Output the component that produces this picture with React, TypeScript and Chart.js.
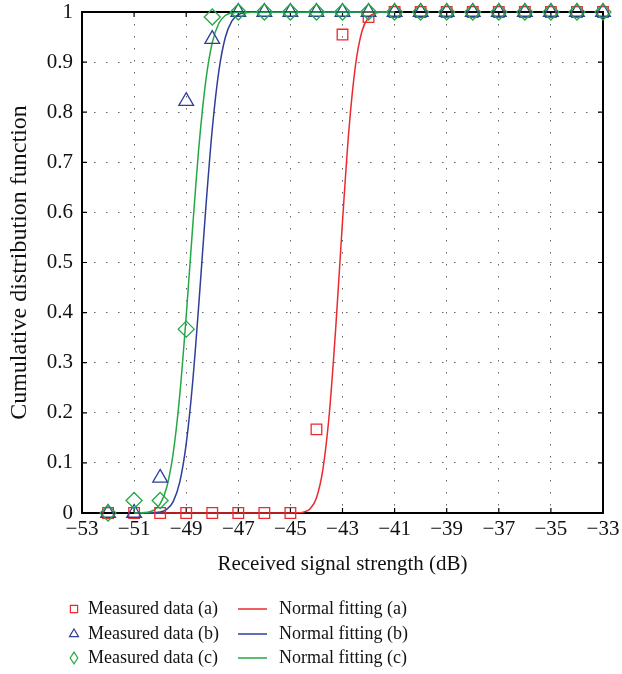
import React, { useEffect, useRef } from "react";
import { Chart, registerables } from "chart.js";

Chart.register(...registerables);

// ---- data ----
const measuredX = [-52, -51, -50, -49, -48, -47, -46, -45, -44, -43, -42, -41, -40, -39, -38, -37, -36, -35, -34, -33];
const measuredA = [0, 0, 0, 0, 0, 0, 0, 0, 0.167, 0.955, 0.99, 1, 1, 1, 1, 1, 1, 1, 1, 1];
const measuredB = [0, 0, 0.07, 0.822, 0.946, 1, 1, 1, 1, 1, 1, 1, 1, 1, 1, 1, 1, 1, 1, 1];
const measuredC = [0, 0.025, 0.025, 0.367, 0.99, 1, 1, 1, 1, 1, 1, 1, 1, 1, 1, 1, 1, 1, 1, 1];

const fitAX = [-51, -45.5, -45, -44.75, -44.5, -44.25, -44, -43.75, -43.5, -43.25, -43, -42.75, -42.5, -42.25, -42, -41.75, -41.5, -41];
const fitAY = [0, 0, 0.0001, 0.0003, 0.0018, 0.0082, 0.03, 0.088, 0.202, 0.377, 0.582, 0.767, 0.894, 0.962, 0.989, 0.9975, 0.9996, 1];

const fitBX = [-51, -50.5, -50, -49.75, -49.5, -49.25, -49, -48.75, -48.5, -48.25, -48, -47.75, -47.5, -47.25, -47, -46.75, -46.5, -41];
const fitBY = [0, 0.0001, 0.0018, 0.0071, 0.0228, 0.061, 0.138, 0.262, 0.428, 0.607, 0.766, 0.881, 0.949, 0.982, 0.9945, 0.9987, 0.9997, 1];

const fitCX = [-51, -50.75, -50.5, -50.25, -50, -49.75, -49.5, -49.25, -49, -48.75, -48.5, -48.25, -48, -47.75, -47.5, -47.25, -47, -41];
const fitCY = [0.0001, 0.0003, 0.0013, 0.0055, 0.018, 0.051, 0.119, 0.234, 0.393, 0.572, 0.738, 0.862, 0.939, 0.977, 0.993, 0.998, 0.9996, 1];

const xTickMin = -53;
const xTickMax = -33;
const xTickStep = 2;
const yTickStep = 0.1;

const seriesLabels = [
  "Measured data (a)",
  "Measured data (b)",
  "Measured data (c)",
  "Normal fitting (a)",
  "Normal fitting (b)",
  "Normal fitting (c)",
];

const RED = "#ec2a2e";
const BLUE = "#2f3f98";
const GREEN = "#24a845";

const FONT = '"Liberation Serif", "DejaVu Serif", serif';

const zip = (xs: number[], ys: number[]) => xs.map((x, i) => ({ x, y: ys[i] }));

// frame + inward ticks
const framePlugin = {
  id: "frame",
  beforeDatasetsDraw(chart: any) {
    const { ctx, chartArea: a, scales } = chart;
    ctx.save();
    ctx.strokeStyle = "#000";
    ctx.lineWidth = 1.2;
    const tl = 5;
    scales.x.ticks.forEach((t: any) => {
      const px = scales.x.getPixelForValue(t.value);
      ctx.beginPath();
      ctx.moveTo(px, a.bottom);
      ctx.lineTo(px, a.bottom - tl);
      ctx.moveTo(px, a.top);
      ctx.lineTo(px, a.top + tl);
      ctx.stroke();
    });
    scales.y.ticks.forEach((t: any) => {
      const py = scales.y.getPixelForValue(t.value);
      ctx.beginPath();
      ctx.moveTo(a.left, py);
      ctx.lineTo(a.left + tl, py);
      ctx.moveTo(a.right, py);
      ctx.lineTo(a.right - tl, py);
      ctx.stroke();
    });
    ctx.lineWidth = 2;
    ctx.strokeRect(a.left, a.top, a.right - a.left, a.bottom - a.top);
    ctx.restore();
  },
};

function drawMarker(ctx: CanvasRenderingContext2D, style: string, x: number, y: number, r: number) {
  ctx.beginPath();
  if (style === "rect") {
    ctx.rect(x - r, y - r, 2 * r, 2 * r);
  } else if (style === "triangle") {
    ctx.moveTo(x, y - r * 1.1);
    ctx.lineTo(x + r, y + r * 0.6);
    ctx.lineTo(x - r, y + r * 0.6);
    ctx.closePath();
  } else {
    ctx.moveTo(x, y - r * 1.3);
    ctx.lineTo(x + r * 0.85, y);
    ctx.lineTo(x, y + r * 1.3);
    ctx.lineTo(x - r * 0.85, y);
    ctx.closePath();
  }
  ctx.stroke();
}

const legendPlugin = {
  id: "customLegend",
  afterDraw(chart: any) {
    const { ctx } = chart;
    const ds = chart.data.datasets;
    ctx.save();
    ctx.font = `18px ${FONT}`;
    ctx.textBaseline = "middle";
    ctx.textAlign = "left";
    const rows = [609, 634, 658];
    for (let i = 0; i < 3; i++) {
      const m = ds[i];
      const y = rows[i];
      ctx.strokeStyle = m.borderColor;
      ctx.lineWidth = 1.2;
      drawMarker(ctx, m.pointStyle, 74, y, m.pointStyle === "rect" ? 3.6 : 4.5);
      ctx.fillStyle = "#111";
      ctx.fillText(m.label, 88, y);
      const f = ds[i + 3];
      ctx.strokeStyle = f.borderColor;
      ctx.lineWidth = 1.5;
      ctx.beginPath();
      ctx.moveTo(238, y);
      ctx.lineTo(267, y);
      ctx.stroke();
      ctx.fillText(f.label, 279, y);
    }
    ctx.restore();
  },
};

export default function App() {
  const ref = useRef<HTMLCanvasElement | null>(null);

  useEffect(() => {
    document.body.style.margin = "0";
    if (!ref.current) return;
    const markerCommon = {
      showLine: false,
      backgroundColor: "rgba(0,0,0,0)",
      borderWidth: 1.3,
      clip: false as any,
    };
    const lineCommon = {
      showLine: true,
      pointRadius: 0,
      borderWidth: 1.5,
      cubicInterpolationMode: "monotone" as const,
      fill: false,
      clip: false as any,
    };
    const chart = new Chart(ref.current, {
      type: "scatter",
      data: {
        datasets: [
          { ...markerCommon, label: seriesLabels[0], data: zip(measuredX, measuredA), pointStyle: "rect", pointRadius: 7.5, borderColor: RED, order: 3 },
          { ...markerCommon, label: seriesLabels[1], data: zip(measuredX, measuredB), pointStyle: "triangle", pointRadius: 8.5, borderColor: BLUE, order: 2 },
          { ...markerCommon, label: seriesLabels[2], data: zip(measuredX, measuredC), pointStyle: "rectRot", pointRadius: 8, borderColor: GREEN, order: 1 },
          { ...lineCommon, label: seriesLabels[3], data: zip(fitAX, fitAY), borderColor: RED, order: 6 },
          { ...lineCommon, label: seriesLabels[4], data: zip(fitBX, fitBY), borderColor: BLUE, order: 5 },
          { ...lineCommon, label: seriesLabels[5], data: zip(fitCX, fitCY), borderColor: GREEN, order: 4 },
        ] as any,
      },
      options: {
        animation: false,
        responsive: false,
        layout: { padding: { left: 0, top: 12, right: 19, bottom: 95 } },
        plugins: { legend: { display: false }, tooltip: { enabled: false } },
        scales: {
          x: {
            type: "linear",
            min: xTickMin,
            max: xTickMax,
            afterFit: (s: any) => {
              s.height = 66;
              s.paddingLeft = 0;
              s.paddingRight = 0;
            },
            ticks: {
              stepSize: xTickStep,
              color: "#111",
              padding: 4,
              maxRotation: 0,
              font: { family: FONT, size: 21 },
              callback: (v: any) => String(v).replace("-", "\u2212"),
            },
            grid: { color: "#666", lineWidth: 1, drawTicks: false },
            border: { display: false, dash: [1.5, 10.5] },
            title: {
              display: true,
              text: "Received signal strength (dB)",
              color: "#111",
              font: { family: FONT, size: 21 },
              padding: { top: 4, bottom: 2 },
            },
          },
          y: {
            type: "linear",
            min: 0,
            max: 1,
            afterFit: (s: any) => {
              s.width = 82;
              s.paddingTop = 0;
              s.paddingBottom = 0;
            },
            ticks: {
              stepSize: yTickStep,
              color: "#111",
              padding: 9,
              font: { family: FONT, size: 21 },
              callback: (v: any) => String(Number(Number(v).toFixed(1))),
            },
            grid: { color: "#666", lineWidth: 1, drawTicks: false },
            border: { display: false, dash: [1.5, 10.5] },
            title: {
              display: true,
              text: "Cumulative distribution function",
              color: "#111",
              font: { family: FONT, size: 24 },
              padding: { top: 5, bottom: 0 },
            },
          },
        },
      },
      plugins: [framePlugin, legendPlugin],
    });
    return () => chart.destroy();
  }, []);

  return (
    <div style={{ width: 622, height: 674 }}>
      <canvas ref={ref} width={622} height={674} style={{ display: "block", width: 622, height: 674 }} />
    </div>
  );
}
